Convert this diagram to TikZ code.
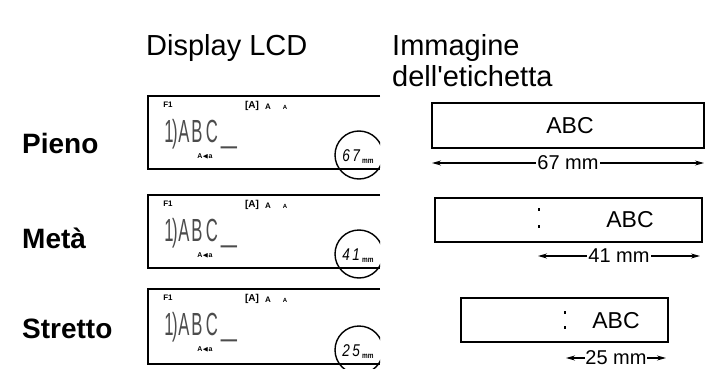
\documentclass[tikz,border=0pt]{standalone}
\usepackage{amssymb}
\usepackage{fontspec}
\setmainfont{Liberation Sans}
\usetikzlibrary{arrows.meta}
\tikzset{
  hdr/.style={anchor=base west,inner sep=0pt,font=\fontsize{29}{33}\selectfont},
  rowlbl/.style={anchor=base west,inner sep=0pt,font=\fontsize{28}{32}\selectfont\bfseries},
  lcdbox/.style={draw,line width=2pt},
  lblbox/.style={draw,line width=1.8pt},
  abc/.style={inner sep=0pt,font=\fontsize{23}{27}\selectfont},
  dimarrow/.style={line width=1.2pt,{Stealth[length=9pt,width=5pt]}-{Stealth[length=9pt,width=5pt]}},
  dimlbl/.style={fill=white,inner sep=1.5pt,font=\fontsize{20}{24}\selectfont},
  lcdch/.style={anchor=base,inner sep=0pt,xscale=0.52,font=\fontsize{32}{36}\selectfont\color{black!70}},
  tiny/.style={inner sep=0pt,font=\fontsize{8}{9}\selectfont\bfseries},
  sizecircle/.style={draw,line width=1.4pt,circle,minimum size=48pt,inner sep=0pt},
  sizetxt/.style={inner sep=0pt,xscale=0.8,font=\fontsize{17}{20}\selectfont\itshape},
  dotmark/.style={line width=1.4pt},
}
\begin{document}
\begin{tikzpicture}[x=1pt,y=-1pt]
\useasboundingbox (0,0) rectangle (709,369);
% headers
\node[hdr] (h1) at (146,56) {Display LCD};
\node[hdr] (h2) at (392,56) {Immagine};
\node[hdr] (h3) at (392,86) {dell\textquotesingle etichetta};
% row labels
\node[rowlbl] (r1) at (22,153) {Pieno};
\node[rowlbl] (r2) at (22,248) {Metà};
\node[rowlbl] (r3) at (22,338) {Stretto};
% LCD panels (cropped on the right)
\foreach \i/\t/\b/\num in {1/96/169/6\,7, 2/195/268/4\,1, 3/289/364/2\,5}{
  \begin{scope}
    \clip (140,\t-5) rectangle (380,\b+20);
    \node[sizecircle] (c\i) at (359,\b-14) {};
  \end{scope}
  \draw[lcdbox] (380,\t) -- (148,\t) -- (148,\b) -- (380,\b);
  \node[tiny] (f\i) at (168,\t+9) {F1};
  \node[tiny,font=\fontsize{10}{11}\selectfont\bfseries] (ba\i) at (252,\t+10) {[A]};
  \node[tiny] (sa\i) at (268,\t+11) {A};
  \node[tiny,font=\fontsize{6}{7}\selectfont\bfseries] (ta\i) at (285,\t+11) {A};
  \node[lcdch] (one\i) at (171,\t+46) {1\kern-3pt)};
  \node[lcdch] (A\i) at (184,\t+46) {A};
  \node[lcdch] (B\i) at (197,\t+46) {B};
  \node[lcdch] (C\i) at (212,\t+46) {C};
  \node[lcdch,xscale=1.7] (U\i) at (229,\t+46) {\_};
  \node[tiny,font=\fontsize{7}{8}\selectfont\bfseries] (aa\i) at (205,\t+60) {A{\scriptsize$\blacktriangleleft$}a};
  \node[sizetxt] (n\i) at (358,\b-12) {\num\,\raisebox{-2pt}{\fontsize{8}{9}\selectfont\bfseries\upshape mm}};
}
% label images
\node[lblbox,minimum width=272pt,minimum height=45pt,inner sep=0pt] (L1) at (568,125.5) {};
\node[abc] (t1) at (570,126) {ABC};
\coordinate (a1l) at (432,163);
\coordinate (a1r) at (704,163);
\draw[dimarrow] (a1l) -- node[dimlbl] (d1) {67 mm} (a1r);

\node[lblbox,minimum width=267pt,minimum height=44pt,inner sep=0pt] (L2) at (568.5,220) {};
\node[abc] (t2) at (630,220) {ABC};
\draw[dotmark] (539,208) -- (539,211) (539,225) -- (539,228);
\coordinate (a2l) at (538,256);
\coordinate (a2r) at (700,256);
\draw[dimarrow] (a2l) -- node[dimlbl,inner sep=1pt] (d2) {41 mm} (a2r);

\node[lblbox,minimum width=207pt,minimum height=44pt,inner sep=0pt] (L3) at (564.5,320) {};
\node[abc] (t3) at (616,321) {ABC};
\draw[dotmark] (565,311) -- (565,314) (565,326) -- (565,329);
\coordinate (a3l) at (566,358);
\coordinate (a3r) at (666,358);
\draw[dimarrow] (a3l) -- node[dimlbl,inner sep=0.5pt] (d3) {25 mm} (a3r);
\end{tikzpicture}
\end{document}
